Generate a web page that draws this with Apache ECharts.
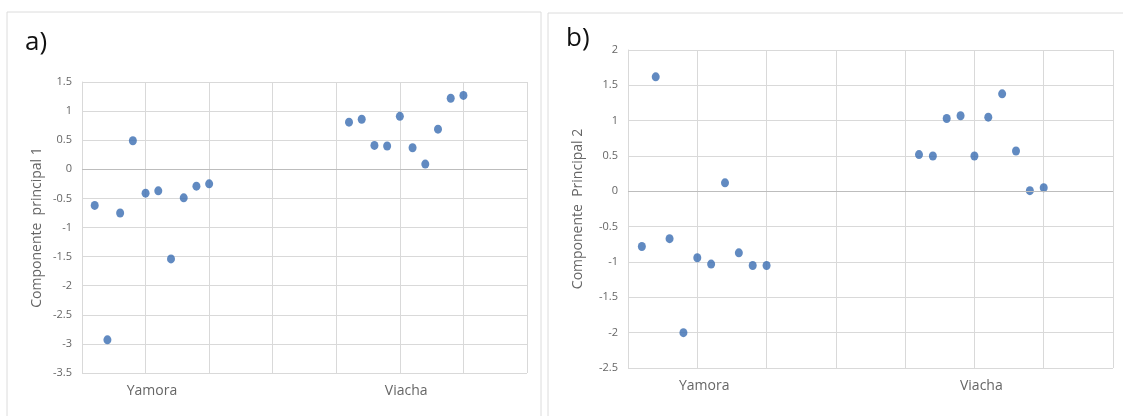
<!DOCTYPE html>
<html>
<head>
<meta charset="utf-8">
<script src="https://cdn.jsdelivr.net/npm/echarts@6/dist/echarts.min.js"></script>
<style>
  html, body { margin: 0; padding: 0; background: #fff; }
  #chart { width: 1123px; height: 416px; }
</style>
</head>
<body>
<div id="chart"></div>
<script>
// sample index along x (Excel scatter, one point per sample)
const yamoraX = [1, 2, 3, 4, 5, 6, 7, 8, 9, 10];
const viachaX = [21, 22, 23, 24, 25, 26, 27, 28, 29, 30];

// a) Componente principal 1
const yamoraPC1 = [-0.62, -2.93, -0.75, 0.49, -0.41, -0.37, -1.54, -0.49, -0.29, -0.25];
const viachaPC1 = [0.81, 0.86, 0.41, 0.40, 0.91, 0.37, 0.09, 0.69, 1.22, 1.27];

// b) Componente Principal 2
const yamoraPC2 = [-0.78, 1.62, -0.67, -2.0, -0.94, -1.03, 0.12, -0.87, -1.05, -1.05];
const viachaPC2 = [0.52, 0.50, 1.03, 1.07, 0.50, 1.05, 1.38, 0.57, 0.01, 0.05];

// category labels under the x axis
const sites = ['Yamora', 'Viacha'];
const siteTicks = [5.5, 25.5];

const dotColor = '#3a6db2';
const gridColor = '#d9d9d9';
const textGray = '#666666';
const font = 'Open Sans';

function pairs(xs, ys) {
  return xs.map(function (x, i) { return [x, ys[i]]; });
}

function xAxisFor(idx) {
  return {
    type: 'value', gridIndex: idx, min: 0, max: 35, interval: 5,
    axisLine: { show: false, onZero: false },
    axisTick: { show: false },
    splitLine: { show: true, lineStyle: { color: gridColor, width: 1 } },
    axisLabel: {
      customValues: siteTicks,
      margin: 11,
      color: textGray, fontFamily: font, fontSize: 14,
      formatter: function (v) { return sites[siteTicks.indexOf(v)] || ''; }
    }
  };
}

function yAxisFor(idx, min, max, name, gap) {
  return {
    type: 'value', gridIndex: idx, min: min, max: max, interval: 0.5,
    name: name, nameLocation: 'middle', nameGap: gap,
    nameTextStyle: { color: textGray, fontFamily: font, fontSize: 14 },
    axisLine: { show: true, lineStyle: { color: gridColor } },
    axisTick: { show: false },
    splitLine: { show: true, lineStyle: { color: gridColor, width: 1 } },
    axisLabel: { color: textGray, fontFamily: font, fontSize: 11, margin: 10 }
  };
}

const zeroLine = {
  silent: true, symbol: 'none',
  label: { show: false },
  lineStyle: { color: '#bdbdbd', width: 1, type: 'solid' },
  data: [{ yAxis: 0 }]
};

function dots(idx, data, withZero) {
  const s = {
    type: 'scatter', xAxisIndex: idx, yAxisIndex: idx,
    symbol: 'circle', symbolSize: [8, 9],
    itemStyle: { color: dotColor },
    data: data
  };
  if (withZero) s.markLine = zeroLine;
  return s;
}

let myChart = echarts.init(document.getElementById('chart'));
let option = {
  animation: false,
  backgroundColor: '#fff',
  graphic: [
    { type: 'rect', shape: { x: 7, y: 12, width: 534, height: 420 },
      style: { fill: 'none', stroke: '#dcdcdc', lineWidth: 1 } },
    { type: 'rect', shape: { x: 548, y: 13, width: 590, height: 420 },
      style: { fill: 'none', stroke: '#dcdcdc', lineWidth: 1 } },
    { type: 'text', left: 25, top: 30,
      style: { text: 'a)', fill: '#111', fontFamily: font, fontSize: 26 } },
    { type: 'text', left: 566, top: 26,
      style: { text: 'b)', fill: '#111', fontFamily: font, fontSize: 26 } }
  ],
  grid: [
    { left: 82, top: 82, width: 445, height: 291 },
    { left: 628, top: 50, width: 485, height: 318 }
  ],
  xAxis: [xAxisFor(0), xAxisFor(1)],
  yAxis: [
    yAxisFor(0, -3.5, 1.5, 'Componente  principal 1', 38),
    yAxisFor(1, -2.5, 2, 'Componente  Principal 2', 43)
  ],
  series: [
    dots(0, pairs(yamoraX, yamoraPC1), true),
    dots(0, pairs(viachaX, viachaPC1), false),
    dots(1, pairs(yamoraX, yamoraPC2), true),
    dots(1, pairs(viachaX, viachaPC2), false)
  ]
};
myChart.setOption(option);
</script>
</body>
</html>
